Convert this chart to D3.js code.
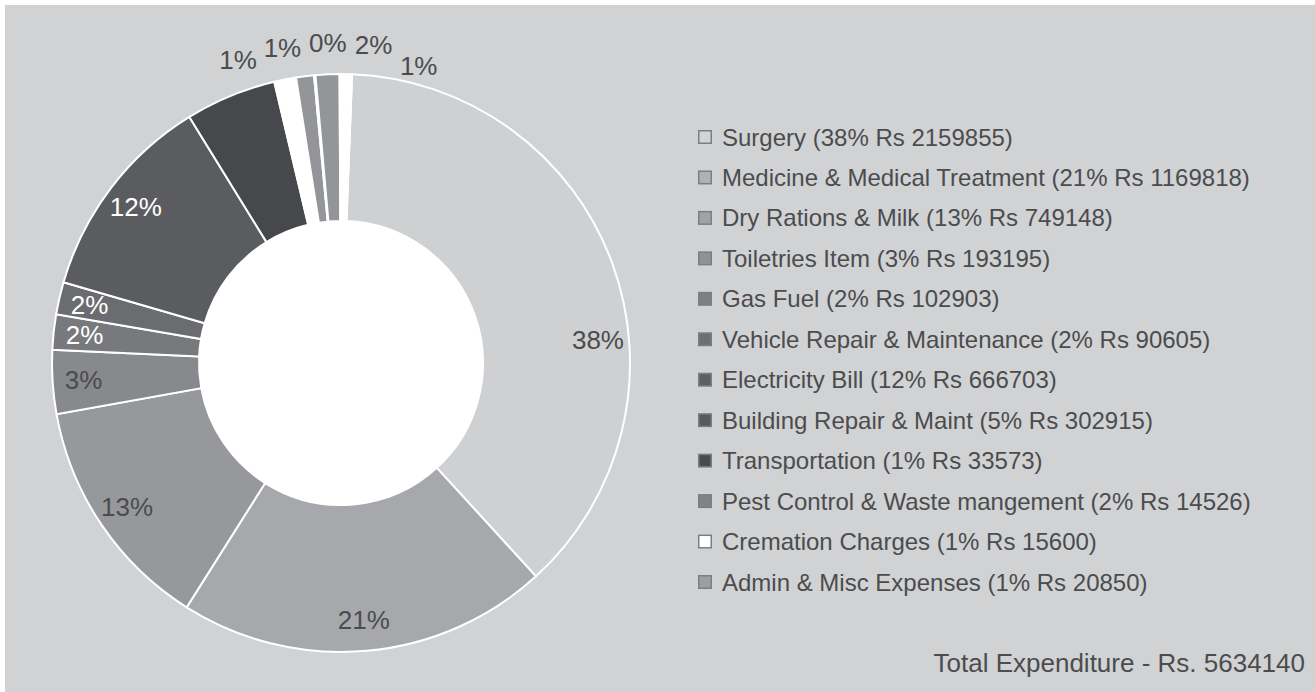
<!DOCTYPE html>
<html>
<head>
<meta charset="utf-8">
<script src="https://cdn.jsdelivr.net/npm/d3@7/dist/d3.min.js"></script>
<style>
  body { margin: 0; background: #ffffff; }
  svg { display: block; font-family: "Liberation Sans", Arial, Helvetica, sans-serif; }
</style>
</head>
<body>
<div id="chart"></div>
<script>
// Ring slices, clockwise from the top (share of the ring, in %)
const sliceLabels = ['38%', '21%', '13%', '3%', '2%', '2%', '12%', '', '1%', '1%', '0%', '2%', '1%'];
const sliceShares = [37.6, 20.75, 13.2, 3.56, 1.97, 1.81, 11.7, 5.08, 1.22, 1.0, 0.08, 1.33, 0.69];
const sliceColors = ['#cfd0d2', '#a7a8ab', '#97989b', '#88898c', '#78797c', '#6b6c6f',
  '#5b5c5f', '#47484b', '#ffffff', '#939598', '#ffffff', '#939598', '#ffffff'];

// Legend entries
const legendNames = ['Surgery', 'Medicine & Medical Treatment', 'Dry Rations & Milk', 'Toiletries Item',
  'Gas Fuel', 'Vehicle Repair & Maintenance', 'Electricity Bill', 'Building Repair & Maint',
  'Transportation', 'Pest Control & Waste mangement', 'Cremation Charges', 'Admin & Misc Expenses'];
const legendPercents = [38, 21, 13, 3, 2, 2, 12, 5, 1, 2, 1, 1];
const legendAmounts = [2159855, 1169818, 749148, 193195, 102903, 90605, 666703, 302915, 33573, 14526, 15600, 20850];
const legendColors = ['#d3d4d6', '#b0b1b3', '#a1a2a4', '#909193', '#7e7f81', '#6e6f71',
  '#5e5f61', '#58595b', '#4a4b4d', '#818285', '#ffffff', '#9d9ea0'];

const totalLabel = 'Total Expenditure - Rs. 5634140';

const width = 1315, height = 692;
const cx = 341, cy = 363;
const outerR = 289, innerR = 142;
const textColor = '#4b4c4e';
const startDeg = 2.2;

const svg = d3.select('#chart').append('svg')
  .attr('width', width)
  .attr('height', height);

// grey panel
svg.append('rect')
  .attr('x', 5).attr('y', 5)
  .attr('width', width - 5).attr('height', height - 5)
  .attr('fill', '#d1d2d4');

const g = svg.append('g').attr('transform', `translate(${cx},${cy})`);

const pie = d3.pie()
  .sort(null)
  .value(d => d)
  .startAngle(startDeg * Math.PI / 180)
  .endAngle(startDeg * Math.PI / 180 + 2 * Math.PI);

const arcs = pie(sliceShares);
const arc = d3.arc().innerRadius(innerR).outerRadius(outerR);

g.append('circle').attr('r', innerR).attr('fill', '#ffffff');

g.selectAll('path.slice')
  .data(arcs)
  .enter()
  .append('path')
  .attr('class', 'slice')
  .attr('d', arc)
  .attr('fill', (d, i) => sliceColors[i])
  .attr('stroke', '#ffffff')
  .attr('stroke-width', 2);

// Labels: big slices inside the ring, thin ones spread above it
const toDeg = a => a * 180 / Math.PI;
const midDeg = d => {
  let m = toDeg((d.startAngle + d.endAngle) / 2);
  if (m > 180) m -= 360;
  return m;
};
const inside = [], outside = [];
arcs.forEach((d, i) => {
  if (!sliceLabels[i]) return;
  (sliceShares[i] < 1.5 ? outside : inside).push({ i, ang: midDeg(d) });
});

// the biggest label sits lower in its slice, best-fit style
inside.forEach(l => { if (l.i === 0) l.ang += 15; });

const labelR = 258, outR = 320, gap = 8.2, outShift = 2.7;
outside.sort((a, b) => a.ang - b.ang);
for (let k = 0; k < 200; k++) {
  for (let j = 1; j < outside.length; j++) {
    const diff = outside[j].ang - outside[j - 1].ang;
    if (diff < gap) {
      const push = (gap - diff) / 2;
      outside[j - 1].ang -= push;
      outside[j].ang += push;
    }
  }
}
outside.forEach(l => { l.ang += outShift; });

const polar = (r, deg) => [r * Math.sin(deg * Math.PI / 180), -r * Math.cos(deg * Math.PI / 180)];

g.selectAll('text.inlabel')
  .data(inside)
  .enter()
  .append('text')
  .attr('class', 'inlabel')
  .attr('x', d => polar(labelR, d.ang)[0])
  .attr('y', d => polar(labelR, d.ang)[1])
  .attr('text-anchor', 'middle')
  .attr('dominant-baseline', 'central')
  .attr('font-size', 26)
  .attr('fill', d => d3.hsl(sliceColors[d.i]).l < 0.5 ? '#ffffff' : textColor)
  .text(d => sliceLabels[d.i]);

g.selectAll('text.outlabel')
  .data(outside)
  .enter()
  .append('text')
  .attr('class', 'outlabel')
  .attr('x', d => polar(outR, d.ang)[0])
  .attr('y', d => polar(d.ang > 10 ? outR - 14 : outR, d.ang)[1])
  .attr('text-anchor', 'middle')
  .attr('dominant-baseline', 'central')
  .attr('font-size', 26)
  .attr('fill', textColor)
  .text(d => sliceLabels[d.i]);

// Legend
const legendY = d3.scalePoint()
  .domain(d3.range(legendNames.length))
  .range([137, 582]);

const legend = svg.append('g');
const rows = legend.selectAll('g.row')
  .data(legendNames)
  .enter()
  .append('g')
  .attr('class', 'row')
  .attr('transform', (d, i) => `translate(698,${legendY(i)})`);

rows.append('rect')
  .attr('x', 0.75).attr('y', -6.25)
  .attr('width', 12.5).attr('height', 12.5)
  .attr('fill', (d, i) => legendColors[i])
  .attr('stroke', '#7d7e81')
  .attr('stroke-width', 1.5);

rows.append('text')
  .attr('x', 24)
  .attr('y', 0)
  .attr('dominant-baseline', 'central')
  .attr('font-size', 24)
  .attr('fill', textColor)
  .text((d, i) => `${d} (${legendPercents[i]}% Rs ${legendAmounts[i]})`);

svg.append('text')
  .attr('x', 1305)
  .attr('y', 663)
  .attr('text-anchor', 'end')
  .attr('dominant-baseline', 'central')
  .attr('font-size', 26)
  .attr('fill', textColor)
  .text(totalLabel);
</script>
</body>
</html>
